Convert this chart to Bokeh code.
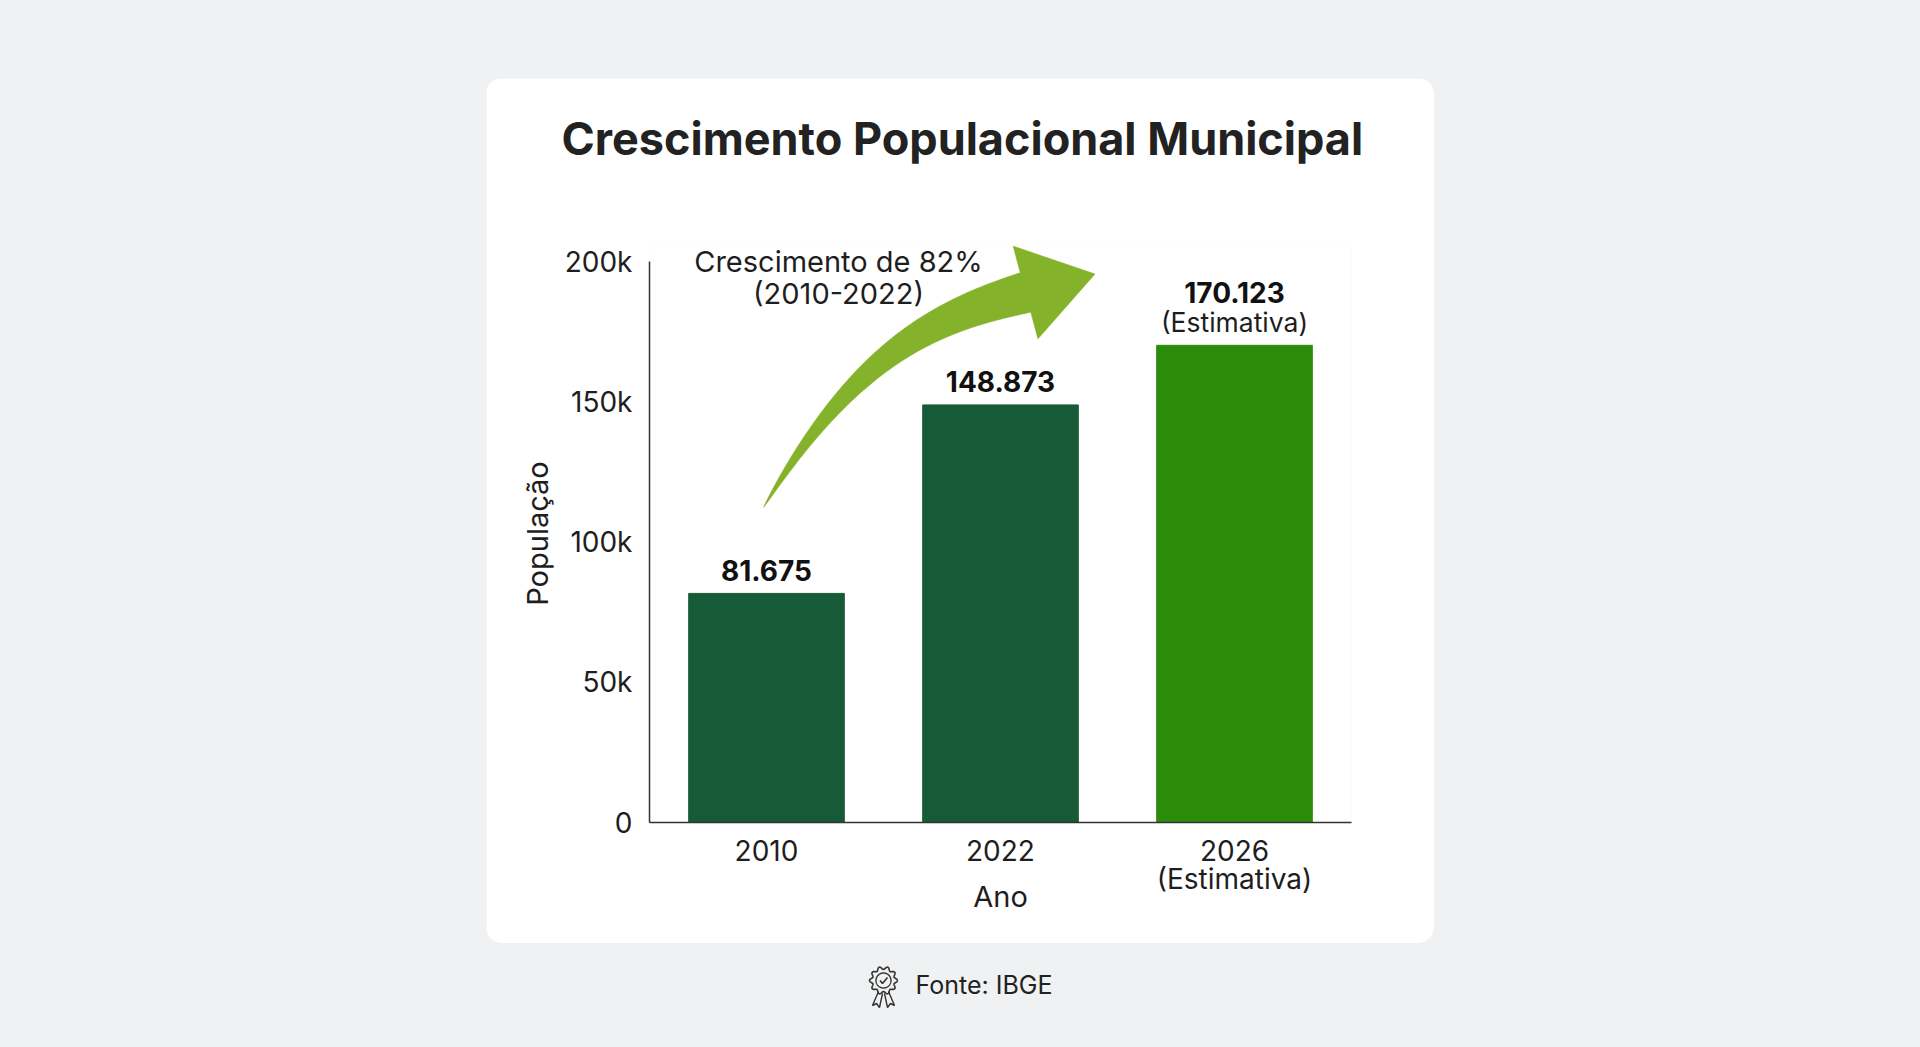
import numpy as np
from bokeh.plotting import figure
from bokeh.layouts import column
from bokeh.models import (Range1d, FixedTicker, Label, ColumnDataSource, Title)
from bokeh.core.properties import value
from bokeh.embed import file_html
from bokeh.resources import INLINE

# ---------------- data ----------------
anos = ["2010", "2022", "2026"]
rotulos_anos = ["2010", "2022", "2026\n(Estimativa)"]
populacao = [81675, 148873, 170123]
notas = ["", "", "(Estimativa)"]
cores = ["#175a37", "#175a37", "#2b8c0c"]
y_ticks = [0, 50000, 100000, 150000, 200000]
y_tick_labels = ["0", "50k", "100k", "150k", "200k"]
titulo = "Crescimento Populacional Municipal"
anotacao = ["Crescimento de 82%", "(2010-2022)"]
eixo_x = "Ano"
eixo_y = "População"
fonte = "Fonte: IBGE"

# ---------------- layout (page pixel coordinates) ----------------
PW, PH = 1920, 1047
CL, CR, CT, CB = 486, 1434, 78, 943          # card
FL, FR, FT, FB = 649, 1351, 244, 822         # plot frame
Y200 = 261                                   # pixel row of 200k
FONT = "Inter"
INK = "#1e1e1e"
BG = "#f0f1f3"

xpos = [i + 0.5 for i in range(len(anos))]
y_end = 200000 * (FB - FT) / (FB - Y200)

p = figure(width=CR - CL, height=CB - CT,
           x_range=Range1d(0, len(anos)),
           y_range=Range1d(0, y_end),
           output_backend="svg", toolbar_location=None,
           min_border_left=FL - CL, min_border_right=CR - FR,
           min_border_top=FT - CT, min_border_bottom=CB - FB,
           border_fill_color="white", background_fill_color="white",
           outline_line_color=None)
p.margin = (CT, 0, 0, CL)
p.styles = {"border-radius": "16px", "overflow": "hidden"}
p.extra_x_ranges = {"px": Range1d(FL, FR)}
p.extra_y_ranges = {"px": Range1d(FB, FT)}

# title (outermost) + an empty spacer title between it and the frame
p.title = Title(text=titulo, align="left", offset=561 - FL,
                text_font=FONT, text_font_size="45px", text_font_style="bold",
                text_color="#222222", standoff=0)
p.add_layout(Title(text=" ", text_font_size="1px", standoff=76), "above")

# bars
src = ColumnDataSource(dict(x=xpos, pop=populacao, cor=cores,
                            rot=[f"{v:,}".replace(",", ".") for v in populacao],
                            nota=notas,
                            off=[-53 if n else -23 for n in notas]))
p.vbar(x="x", top="pop", width=0.665, color="cor", source=src)

# value labels
p.text(x="x", y="pop", text="rot", y_offset="off", source=src,
       text_font=value(FONT), text_font_style="bold", text_font_size="28px",
       text_color="#111111", text_align="center", text_baseline="middle")
p.text(x="x", y="pop", text="nota", y_offset=-23, source=src,
       text_font=value(FONT), text_font_size="26.5px",
       text_color=INK, text_align="center", text_baseline="middle")

# axes
p.grid.visible = False
for ax in (p.xaxis[0], p.yaxis[0]):
    ax.axis_line_color = "#333333"
    ax.axis_line_width = 1.5
    ax.major_tick_line_color = None
    ax.minor_tick_line_color = None
    ax.major_tick_out = 0
    ax.major_tick_in = 0
    ax.major_label_text_font = FONT
    ax.major_label_text_color = INK
    ax.major_label_text_font_size = "28px"
    ax.axis_label_text_font = FONT
    ax.axis_label_text_font_style = "normal"
    ax.axis_label_text_font_size = "29px"
    ax.axis_label_text_color = INK

p.xaxis.ticker = FixedTicker(ticks=xpos)
p.xaxis.major_label_overrides = dict(zip(xpos, rotulos_anos))
p.xaxis.major_label_standoff = 11
p.xaxis.major_label_text_line_height = 0.85
p.xaxis.axis_label = eixo_x
p.xaxis.axis_label_standoff = -20
p.yaxis.ticker = FixedTicker(ticks=y_ticks)
p.yaxis.major_label_overrides = dict(zip(y_ticks, y_tick_labels))
p.yaxis.bounds = (0, 200000)
p.yaxis.major_label_standoff = 17
p.yaxis.axis_label = eixo_y
p.yaxis.axis_label_standoff = 7

for i, txt in enumerate(anotacao):
    p.add_layout(Label(x=838, y=261 + 32 * i, text=txt, x_range_name="px", y_range_name="px",
                       text_font=FONT, text_font_size="29px", text_color=INK,
                       text_align="center", text_baseline="middle"))

# curved growth arrow (page pixel space, cubic bezier shaft + triangular head)
P0 = np.array([763.0, 507.0]); C1 = np.array([855.0, 352.0])
C2 = np.array([935.0, 316.0]); P3 = np.array([1025.0, 292.0])
t = np.linspace(0, 1, 100)
a, b, c, e = (1 - t) ** 3, 3 * (1 - t) ** 2 * t, 3 * (1 - t) * t ** 2, t ** 3
pts = a[:, None] * P0 + b[:, None] * C1 + c[:, None] * C2 + e[:, None] * P3
d = (3 * (1 - t) ** 2)[:, None] * (C1 - P0) + (6 * (1 - t) * t)[:, None] * (C2 - C1) \
    + (3 * t ** 2)[:, None] * (P3 - C2)
d /= np.linalg.norm(d, axis=1)[:, None]
nrm = np.stack([-d[:, 1], d[:, 0]], axis=1)
half = 20.5 * t ** 0.75
up = pts + nrm * half[:, None]
lo = pts - nrm * half[:, None]
dd = d[-1]; nn = nrm[-1]
tip = P3 + dd * 72
b1 = P3 + nn * 48
b2 = P3 - nn * 48
xs = list(up[:, 0]) + [b1[0], tip[0], b2[0]] + list(lo[::-1, 0])
ys = list(up[:, 1]) + [b1[1], tip[1], b2[1]] + list(lo[::-1, 1])
p.patch(xs, ys, x_range_name="px", y_range_name="px",
        fill_color="#84b22a", line_color="#84b22a", line_width=0.5)

# ---------------- footer ----------------
f = figure(width=CR - CL, height=PH - CB,
           x_range=Range1d(FL, FR), y_range=Range1d(PH, CB),
           output_backend="svg", toolbar_location=None,
           min_border_left=FL - CL, min_border_right=CR - FR,
           min_border_top=0, min_border_bottom=0,
           border_fill_color=BG, background_fill_color=BG,
           outline_line_color=None, x_axis_type=None, y_axis_type=None)
f.margin = (0, 0, 0, CL)
f.grid.visible = False
cx, cy = 883.0, 980.0
th = np.linspace(0, 2 * np.pi, 121)
r = 12.5 + 1.5 * np.cos(10 * th)
f.line(cx + r * np.cos(th), cy + r * np.sin(th), line_color="#333333", line_width=1.6)
f.line(cx + 7.5 * np.cos(th), cy + 7.5 * np.sin(th), line_color="#333333", line_width=1.4)
for s in (-1, 1):
    f.line([cx + s * 5, cx + s * 11, cx + s * 7, cx + s * 4, cx + s * 1],
           [cy + 11, cy + 25, cy + 23, cy + 27, cy + 13],
           line_color="#333333", line_width=1.4)
f.line([cx - 3.5, cx - 1, cx + 4], [cy, cy + 3, cy - 3], line_color="#333333", line_width=1.6)
f.text(x=[915], y=[984], text=[fonte], text_font=value(FONT), text_font_size="25px",
       text_color="#222222", text_align="left", text_baseline="middle")

page = column(p, f, width=PW, height=PH, spacing=0,
              styles={"background-color": BG})
open("out.html", "w").write(file_html(page, INLINE))
